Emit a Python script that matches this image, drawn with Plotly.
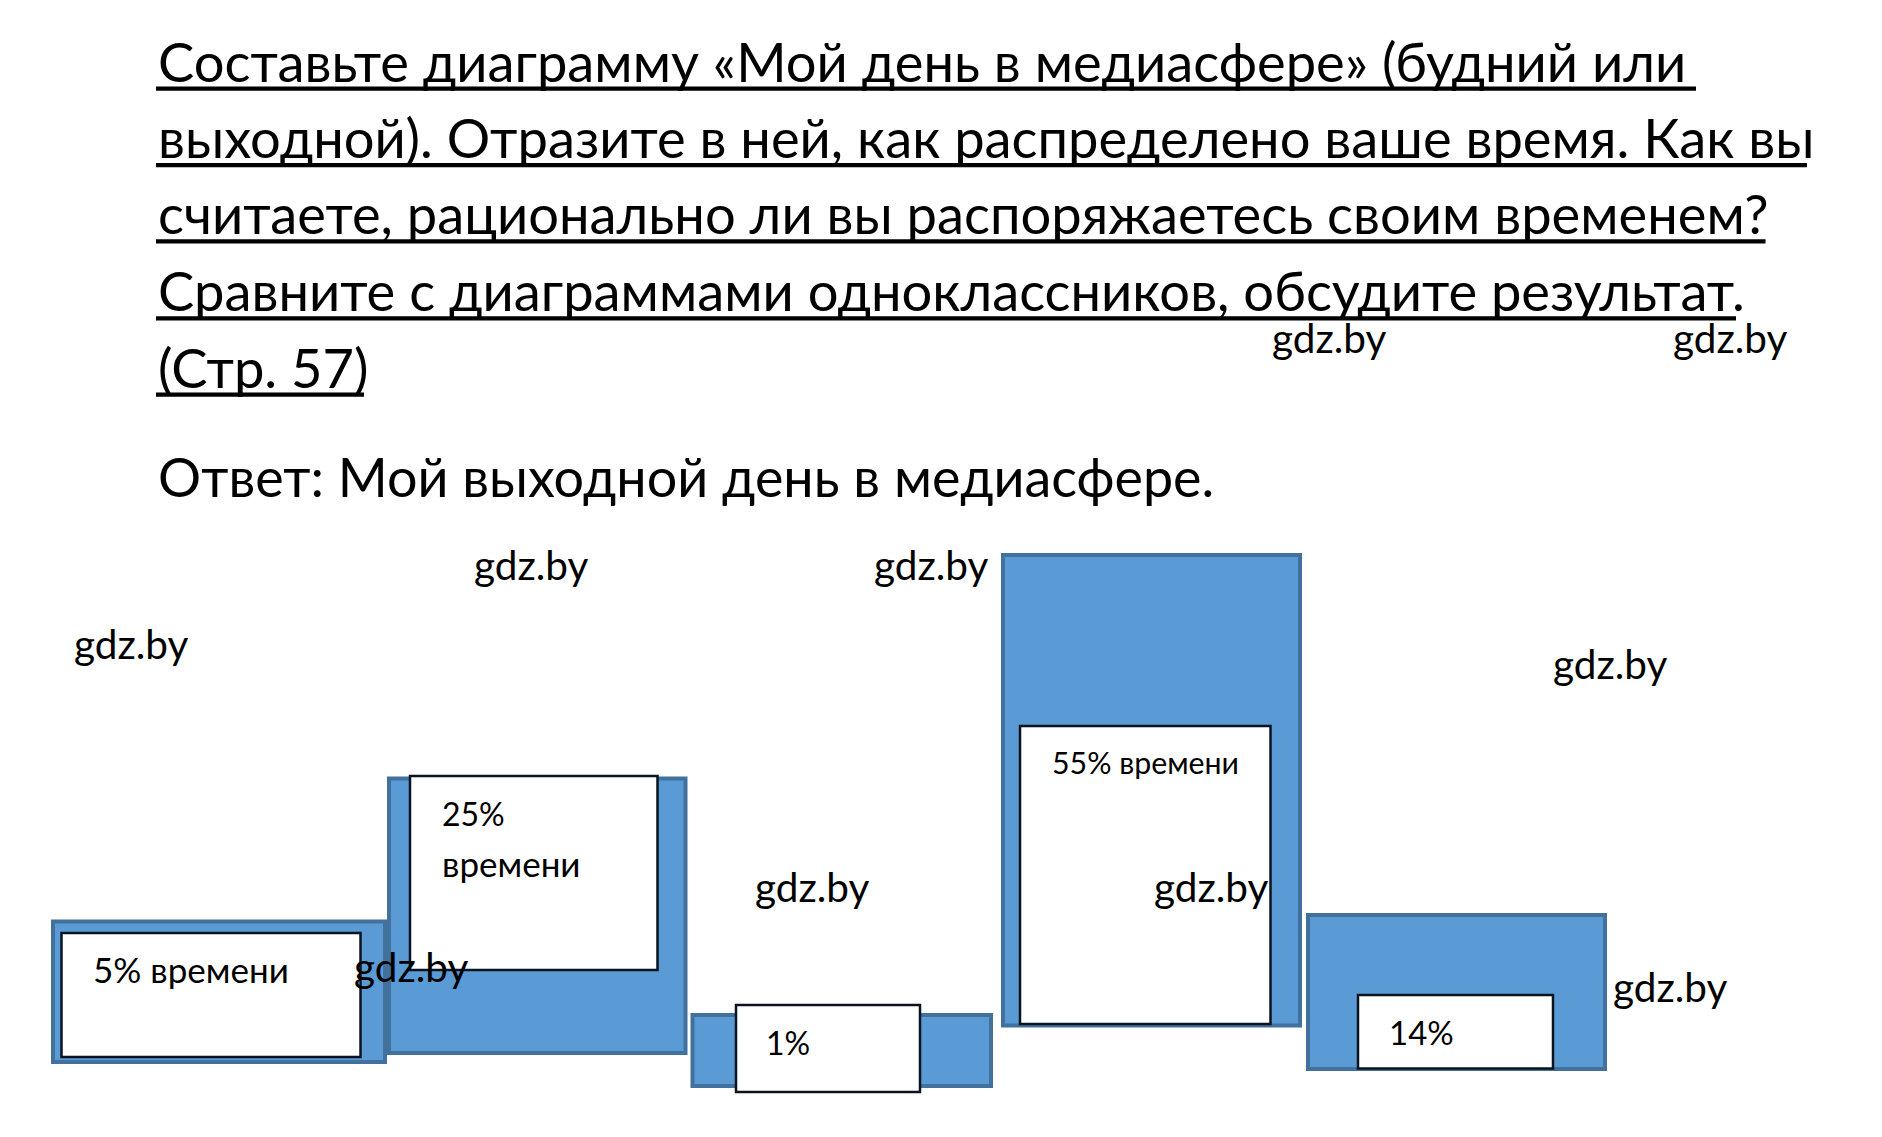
import plotly.graph_objects as go

# ---------------- data ----------------
categories = ["Категория 1", "Категория 2", "Категория 3", "Категория 4", "Категория 5"]
shares = [5, 25, 1, 55, 14]
box_labels = [["5% времени"], ["25%", "времени"], ["1%"], ["55% времени"], ["14%"]]

question_lines = [
    "Составьте диаграмму «Мой день в медиасфере» (будний или",
    "выходной). Отразите в ней, как распределено ваше время. Как вы",
    "считаете, рационально ли вы распоряжаетесь своим временем?",
    "Сравните с диаграммами одноклассников, обсудите результат.",
    "(Стр. 57)",
]
answer_text = "Ответ: Мой выходной день в медиасфере."
watermark = "gdz.by"

# ---------------- layout geometry (page pixels) ----------------
W, H = 1882, 1137
blue_left = [53, 389, 692.5, 1003, 1308]
blue_right = [385, 685.5, 991, 1300, 1605]
blue_top = [921.5, 778.5, 1015, 555, 915]
blue_bottom = [1062, 1053, 1086, 1025.5, 1069]

white_left = [61.5, 410, 736, 1020, 1358]
white_right = [360.5, 657.5, 920, 1270.5, 1553]
white_top = [933, 776, 1005, 726, 995]
white_bottom = [1057, 970, 1092, 1024, 1068.5]

label_x = [[90.5], [439.5, 439.5], [764], [1049.5], [1387]]
label_y = [[969.4], [813.6, 863.4], [1042], [762], [1031.6]]
label_size = [[35], [32, 35], [32], [30.3], [33]]

q_x = 156
q_y = [60.6, 137, 213, 289.5, 367]
q_size = 54.3
underline_x1 = [1696, 1807, 1765.5, 1736, 364]
underline_y = [88.7, 165.2, 241.3, 318.4, 394.7]
ans_y = 475.5
ans_size = 53.9
wm_x = [472, 872, 72, 752.6, 352, 1151.5, 1551, 1611, 1270, 1671]
wm_y = [564.2, 564.2, 643.6, 886.3, 966.6, 886.3, 663.1, 986.3, 337.2, 337.2]
wm_size = 40.5

FONT = "Lato, 'Open Sans', sans-serif"

fig = go.Figure()

fig.add_trace(go.Bar(
    x=[(l + r) / 2 for l, r in zip(blue_left, blue_right)],
    y=[b - t for t, b in zip(blue_top, blue_bottom)],
    base=blue_top,
    width=[r - l for l, r in zip(blue_left, blue_right)],
    marker=dict(color="#5B9BD5", line=dict(color="#41719C", width=4)),
    customdata=shares,
    hovertext=categories,
    hovertemplate="%{hovertext}: %{customdata}%<extra></extra>",
    showlegend=False,
))

fig.add_trace(go.Bar(
    x=[(l + r) / 2 for l, r in zip(white_left, white_right)],
    y=[b - t for t, b in zip(white_top, white_bottom)],
    base=white_top,
    width=[r - l for l, r in zip(white_left, white_right)],
    marker=dict(color="white", line=dict(color="#0a1420", width=2.5)),
    customdata=shares,
    hovertext=categories,
    hovertemplate="%{hovertext}: %{customdata}%<extra></extra>",
    showlegend=False,
))

annotations = []
for i, lines in enumerate(box_labels):
    for j, txt in enumerate(lines):
        annotations.append(dict(
            x=label_x[i][j], y=label_y[i][j], xref="x", yref="y",
            text=txt, showarrow=False, xanchor="left", yanchor="middle",
            font=dict(family=FONT, size=label_size[i][j], color="black"),
        ))

shapes = []
for k, line in enumerate(question_lines):
    annotations.append(dict(
        x=q_x, y=q_y[k], xref="x", yref="y",
        text=line, showarrow=False, xanchor="left", yanchor="middle",
        font=dict(family=FONT, size=q_size, color="black"),
    ))
    shapes.append(dict(
        type="line", xref="x", yref="y",
        x0=q_x, x1=underline_x1[k], y0=underline_y[k], y1=underline_y[k],
        line=dict(color="black", width=4.2),
    ))

annotations.append(dict(
    x=q_x, y=ans_y, xref="x", yref="y",
    text=answer_text, showarrow=False, xanchor="left", yanchor="middle",
    font=dict(family=FONT, size=ans_size, color="black"),
))

for x, y in zip(wm_x, wm_y):
    annotations.append(dict(
        x=x, y=y, xref="x", yref="y",
        text=watermark, showarrow=False, xanchor="left", yanchor="middle",
        font=dict(family=FONT, size=wm_size, color="black"),
    ))

fig.update_layout(
    width=W, height=H,
    margin=dict(l=0, r=0, t=0, b=0),
    paper_bgcolor="white", plot_bgcolor="white",
    barmode="overlay",
    xaxis=dict(range=[0, W], visible=False, fixedrange=True),
    yaxis=dict(range=[H, 0], visible=False, fixedrange=True),
    annotations=annotations,
    shapes=shapes,
)

fig.write_html("out.html")
